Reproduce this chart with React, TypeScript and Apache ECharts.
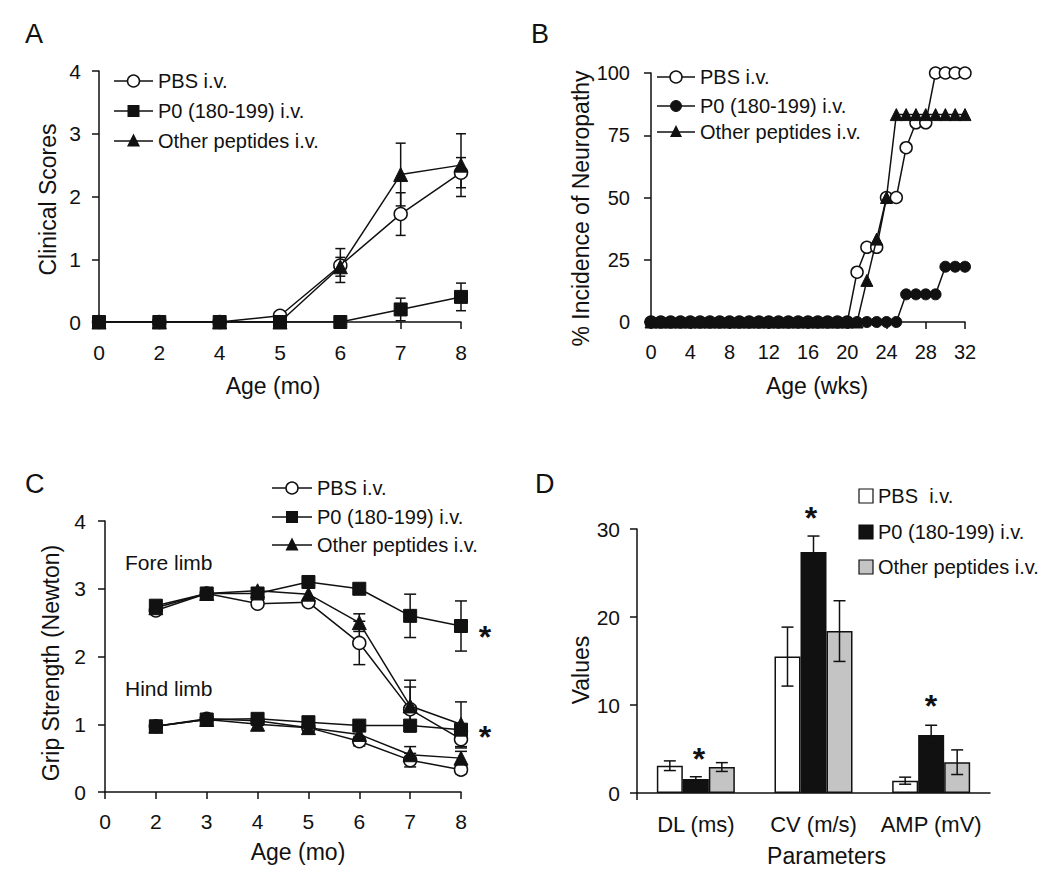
import React, { useEffect, useRef } from 'react';
import * as echarts from 'echarts';

// ---------- Panel A: clinical scores ----------
const ageMonthsA = ['0', '2', '4', '5', '6', '7', '8'];
const clinicalPBS = [0, 0, 0, 0.1, 0.9, 1.72, 2.38];
const clinicalPBSErr = [0, 0, 0, 0, 0.27, 0.34, 0.24];
const clinicalP0 = [0, 0, 0, 0, 0, 0.2, 0.4];
const clinicalP0Err = [0, 0, 0, 0, 0, 0.18, 0.22];
const clinicalOther = [0, 0, 0, 0, 0.88, 2.35, 2.5];
const clinicalOtherErr = [0, 0, 0, 0, 0.15, 0.5, 0.5];
const clinicalTicks = [0, 1, 2, 3, 4];

// ---------- Panel B: % incidence of neuropathy ----------
const weeks = [0, 1, 2, 3, 4, 5, 6, 7, 8, 9, 10, 11, 12, 13, 14, 15, 16, 17, 18, 19, 20, 21, 22, 23, 24, 25, 26, 27, 28, 29, 30, 31, 32];
const incidencePBS = [0, 0, 0, 0, 0, 0, 0, 0, 0, 0, 0, 0, 0, 0, 0, 0, 0, 0, 0, 0, 0, 20, 30, 30, 50, 50, 70, 80, 80, 100, 100, 100, 100];
const incidenceP0 = [0, 0, 0, 0, 0, 0, 0, 0, 0, 0, 0, 0, 0, 0, 0, 0, 0, 0, 0, 0, 0, 0, 0, 0, 0, 0, 11.1, 11.1, 11.1, 11.1, 22.2, 22.2, 22.2];
const incidenceOther = [0, 0, 0, 0, 0, 0, 0, 0, 0, 0, 0, 0, 0, 0, 0, 0, 0, 0, 0, 0, 0, 0, 16.7, 33.3, 50, 83.3, 83.3, 83.3, 83.3, 83.3, 83.3, 83.3, 83.3];

// ---------- Panel C: grip strength ----------
const ageMonthsC = ['0', '2', '3', '4', '5', '6', '7', '8'];
const forePBS = [null, 2.68, 2.93, 2.78, 2.8, 2.2, 1.22, 0.78];
const forePBSErr = [0, 0, 0, 0, 0, 0.32, 0.33, 0.13];
const foreP0 = [null, 2.75, 2.93, 2.93, 3.1, 3.0, 2.6, 2.45];
const foreP0Err = [0, 0, 0, 0, 0, 0, 0.32, 0.37];
const foreOther = [null, 2.72, 2.93, 2.97, 2.92, 2.5, 1.27, 1.0];
const foreOtherErr = [0, 0, 0, 0, 0, 0.13, 0.38, 0.33];
const hindPBS = [null, 0.97, 1.08, 1.05, 0.95, 0.75, 0.47, 0.33];
const hindPBSErr = [0, 0, 0, 0, 0, 0.07, 0.1, 0.06];
const hindP0 = [null, 0.97, 1.07, 1.08, 1.03, 0.98, 0.98, 0.92];
const hindP0Err = [0, 0, 0, 0, 0, 0, 0, 0];
const hindOther = [null, 0.97, 1.07, 1.0, 0.95, 0.85, 0.55, 0.5];
const hindOtherErr = [0, 0, 0, 0, 0, 0, 0.12, 0.1];

// ---------- Panel D: nerve conduction parameters ----------
const parameters = ['DL (ms)', 'CV (m/s)', 'AMP (mV)'];
const ncvPBS = [3.1, 15.5, 1.4];
const ncvPBSErr = [0.55, 3.35, 0.4];
const ncvP0 = [1.6, 27.4, 6.6];
const ncvP0Err = [0.25, 1.8, 1.1];
const ncvOther = [2.95, 18.4, 3.5];
const ncvOtherErr = [0.5, 3.45, 1.4];

const legendLabels = ['PBS i.v.', 'P0 (180-199) i.v.', 'Other peptides i.v.'];
const legendLabelsD = ['PBS  i.v.', 'P0 (180-199) i.v.', 'Other peptides i.v.'];

const FONT = '"Liberation Sans", Arial, Helvetica, sans-serif';
const INK = '#111';
const GREY = '#c4c4c4';

function errRows(means: any[], errs: number[]) {
  const rows: number[][] = [];
  means.forEach((m, i) => {
    const e = errs[i];
    if (typeof m === 'number' && e > 0) rows.push([i, m - e, m + e]);
  });
  return rows;
}

function errorBarRenderer(capWidth: number, offset: number) {
  return (params: any, api: any) => {
    const idx = api.value(0);
    const lo = api.coord([idx, api.value(1)]);
    const hi = api.coord([idx, api.value(2)]);
    const x = lo[0] + offset;
    const style = { stroke: INK, lineWidth: 1.5, fill: null };
    return {
      type: 'group',
      children: [
        { type: 'line', shape: { x1: x, y1: lo[1], x2: x, y2: hi[1] }, style },
        { type: 'line', shape: { x1: x - capWidth / 2, y1: hi[1], x2: x + capWidth / 2, y2: hi[1] }, style },
        { type: 'line', shape: { x1: x - capWidth / 2, y1: lo[1], x2: x + capWidth / 2, y2: lo[1] }, style },
      ],
    };
  };
}

const openCircle = { color: '#fff', borderColor: INK, borderWidth: 1.5 };
const filled = { color: INK, borderColor: INK, borderWidth: 1 };

function lineSeries(name: string, data: any[], x: number, symbol: string, size: number, item: any, z: number) {
  return {
    type: 'line', name, xAxisIndex: x, yAxisIndex: x, data: data.map((v) => (v === null ? '-' : v)),
    symbol, symbolSize: size, showSymbol: true, itemStyle: item,
    lineStyle: { color: INK, width: 1.5 }, z, connectNulls: false,
    emphasis: { disabled: true },
  };
}

function errSeries(means: any[], errs: number[], x: number, cap: number, offset: number, z: number) {
  return {
    type: 'custom', xAxisIndex: x, yAxisIndex: x, data: errRows(means, errs),
    renderItem: errorBarRenderer(cap, offset), z, silent: true,
  };
}

function legendRow(x0: number, x1: number, y: number, marker: string, label: string, size: number) {
  const cx = (x0 + x1) / 2;
  const els: any[] = [
    { type: 'line', shape: { x1: x0, y1: y, x2: x1, y2: y }, style: { stroke: INK, lineWidth: 1.5 } },
  ];
  const r = size / 2;
  if (marker === 'open') els.push({ type: 'circle', shape: { cx, cy: y, r }, style: { fill: '#fff', stroke: INK, lineWidth: 1.5 } });
  if (marker === 'dot') els.push({ type: 'circle', shape: { cx, cy: y, r }, style: { fill: INK, stroke: INK } });
  if (marker === 'square') els.push({ type: 'rect', shape: { x: cx - r, y: y - r, width: size, height: size }, style: { fill: INK } });
  if (marker === 'tri') els.push({ type: 'polygon', shape: { points: [[cx, y - r - 1], [cx - r, y + r - 1], [cx + r, y + r - 1]] }, style: { fill: INK } });
  els.push({
    type: 'text', x: x1 + 5, y,
    style: { text: label, font: `20px ${FONT}`, fill: INK, align: 'left', verticalAlign: 'middle', textAlign: 'left', textVerticalAlign: 'middle' },
  });
  return els;
}

function txt(x: number, y: number, text: string, size: number, weight = 'normal', align = 'left') {
  return {
    type: 'text', x, y,
    style: { text, font: `${weight} ${size}px ${FONT}`, fill: INK, align, verticalAlign: 'middle', textAlign: align, textVerticalAlign: 'middle' },
  };
}

function boxLegend(x: number, y: number, fill: string, label: string) {
  return [
    { type: 'rect', shape: { x, y: y - 7, width: 14, height: 14 }, style: { fill, stroke: INK, lineWidth: 1.2 } },
    txt(x + 19, y, label, 20),
  ];
}

const axisLine = { show: true, lineStyle: { color: INK, width: 1.5 } };
const axisTick = { show: true, length: 7, lineStyle: { color: INK, width: 1.5 } };
const label = (margin: number, size = 20) => ({ color: INK, fontSize: size, fontFamily: FONT, margin, interval: 0 });
const nameStyle = (padding: number[]) => ({ color: INK, fontSize: 23, fontFamily: FONT, padding });

export default function App() {
  const ref = useRef<HTMLDivElement>(null);
  useEffect(() => {
    if (!ref.current) return;
    const chart = echarts.init(ref.current, undefined, { renderer: 'svg' });
    const option: any = {
      animation: false,
      textStyle: { fontFamily: FONT },
      grid: [
        { left: 99, top: 71, width: 362, height: 251 },
        { left: 651, top: 73, width: 314, height: 249 },
        { left: 105, top: 521, width: 356, height: 271 },
        { left: 637, top: 529, width: 353, height: 264 },
      ],
      xAxis: [
        {
          gridIndex: 0, type: 'category', data: ageMonthsA, boundaryGap: false,
          axisLine, axisTick, axisLabel: label(20, 21),
          name: 'Age (mo)', nameLocation: 'middle', nameGap: 52, nameTextStyle: nameStyle([0, 14, 0, 0]),
        },
        {
          gridIndex: 1, type: 'value', min: 0, max: 32, interval: 4,
          axisLine, axisTick, axisLabel: { ...label(20), interval: 'auto' }, splitLine: { show: false },
          name: 'Age (wks)', nameLocation: 'middle', nameGap: 52, nameTextStyle: nameStyle([0, 0, 0, 18]),
        },
        {
          gridIndex: 2, type: 'category', data: ageMonthsC, boundaryGap: false,
          axisLine, axisTick, axisLabel: label(19, 21),
          name: 'Age (mo)', nameLocation: 'middle', nameGap: 48, nameTextStyle: nameStyle([0, 0, 0, 30]),
        },
        {
          gridIndex: 3, type: 'category', data: parameters, boundaryGap: true,
          axisLine, axisTick: { show: false }, axisLabel: label(20, 22),
          name: 'Parameters', nameLocation: 'middle', nameGap: 51, nameTextStyle: nameStyle([0, 0, 0, 26]),
        },
      ],
      yAxis: [
        {
          gridIndex: 0, type: 'value', min: clinicalTicks[0], max: clinicalTicks[clinicalTicks.length - 1], interval: 1,
          axisLine, axisTick, axisLabel: { ...label(18, 21), interval: 'auto' }, splitLine: { show: false },
          name: 'Clinical Scores', nameLocation: 'middle', nameGap: 40, nameTextStyle: nameStyle([0, 6, 0, 0]),
        },
        {
          gridIndex: 1, type: 'value', min: 0, max: 100, interval: 25, offset: 3,
          axisLine, axisTick, axisLabel: { ...label(18), interval: 'auto' }, splitLine: { show: false },
          name: '% Incidence of Neuropathy', nameLocation: 'middle', nameGap: 50, nameTextStyle: nameStyle([0, 22, 0, 0]),
        },
        {
          gridIndex: 2, type: 'value', min: 0, max: 4, interval: 1,
          axisLine, axisTick, axisLabel: { ...label(19, 21), interval: 'auto' }, splitLine: { show: false },
          name: 'Grip Strength (Newton)', nameLocation: 'middle', nameGap: 43, nameTextStyle: nameStyle([0, 13, 0, 0]),
        },
        {
          gridIndex: 3, type: 'value', min: 0, max: 30, interval: 10,
          axisLine, axisTick, axisLabel: { ...label(17, 21), interval: 'auto' }, splitLine: { show: false },
          name: 'Values', nameLocation: 'middle', nameGap: 42, nameTextStyle: nameStyle([0, 18, 0, 0]),
        },
      ],
      series: [
        // A
        errSeries(clinicalPBS, clinicalPBSErr, 0, 10, 0, 1),
        errSeries(clinicalOther, clinicalOtherErr, 0, 10, 0, 1),
        errSeries(clinicalP0, clinicalP0Err, 0, 10, 0, 1),
        lineSeries('PBS i.v.', clinicalPBS, 0, 'circle', 13, openCircle, 2),
        lineSeries('Other peptides i.v.', clinicalOther, 0, 'triangle', 14, filled, 3),
        lineSeries('P0 (180-199) i.v.', clinicalP0, 0, 'rect', 13, filled, 4),
        // B
        lineSeries('PBS i.v.', weeks.map((w, i) => [w, incidencePBS[i]]), 1, 'circle', 12, openCircle, 2),
        lineSeries('Other peptides i.v.', weeks.map((w, i) => [w, incidenceOther[i]]), 1, 'triangle', 12, filled, 3),
        lineSeries('P0 (180-199) i.v.', weeks.map((w, i) => [w, incidenceP0[i]]), 1, 'circle', 11, filled, 4),
        // C
        errSeries(forePBS, forePBSErr, 2, 12, 0, 1),
        errSeries(foreP0, foreP0Err, 2, 12, 0, 1),
        errSeries(foreOther, foreOtherErr, 2, 12, 0, 1),
        errSeries(hindPBS, hindPBSErr, 2, 12, 0, 1),
        errSeries(hindP0, hindP0Err, 2, 12, 0, 1),
        errSeries(hindOther, hindOtherErr, 2, 12, 0, 1),
        lineSeries('PBS i.v. fore', forePBS, 2, 'circle', 13, openCircle, 2),
        lineSeries('Other peptides i.v. fore', foreOther, 2, 'triangle', 14, filled, 3),
        lineSeries('P0 (180-199) i.v. fore', foreP0, 2, 'rect', 13, filled, 4),
        lineSeries('PBS i.v. hind', hindPBS, 2, 'circle', 13, openCircle, 2),
        lineSeries('Other peptides i.v. hind', hindOther, 2, 'triangle', 14, filled, 3),
        lineSeries('P0 (180-199) i.v. hind', hindP0, 2, 'rect', 13, filled, 4),
        // D
        {
          type: 'bar', name: 'PBS i.v. D', xAxisIndex: 3, yAxisIndex: 3, data: ncvPBS,
          barWidth: 26, barGap: '0%', itemStyle: { color: '#fff', borderColor: INK, borderWidth: 1.5 }, z: 2,
        },
        {
          type: 'bar', name: 'P0 D', xAxisIndex: 3, yAxisIndex: 3, data: ncvP0,
          barWidth: 26, barGap: '0%', itemStyle: { color: INK, borderColor: INK, borderWidth: 1.5 }, z: 2,
        },
        {
          type: 'bar', name: 'Other D', xAxisIndex: 3, yAxisIndex: 3, data: ncvOther,
          barWidth: 26, barGap: '0%', itemStyle: { color: GREY, borderColor: INK, borderWidth: 1.5 }, z: 2,
        },
        errSeries(ncvPBS, ncvPBSErr, 3, 12, -26, 5),
        errSeries(ncvP0, ncvP0Err, 3, 12, 0, 5),
        errSeries(ncvOther, ncvOtherErr, 3, 12, 26, 5),
      ],
      graphic: [
        txt(25, 34, 'A', 27),
        txt(531, 34, 'B', 27),
        txt(25, 484, 'C', 27),
        txt(535, 484, 'D', 27),
        ...legendRow(114, 153, 81, 'open', legendLabels[0], 12),
        ...legendRow(114, 153, 111, 'square', legendLabels[1], 12),
        ...legendRow(114, 153, 141, 'tri', legendLabels[2], 13),
        ...legendRow(657, 695, 77, 'open', legendLabels[0], 12),
        ...legendRow(657, 695, 106, 'dot', legendLabels[1], 11),
        ...legendRow(657, 695, 132, 'tri', legendLabels[2], 12),
        ...legendRow(272, 312, 488, 'open', legendLabels[0], 12),
        ...legendRow(272, 312, 517, 'square', legendLabels[1], 12),
        ...legendRow(272, 312, 545, 'tri', legendLabels[2], 13),
        ...boxLegend(859, 496, '#fff', legendLabelsD[0]),
        ...boxLegend(859, 532, INK, legendLabelsD[1]),
        ...boxLegend(859, 567, GREY, legendLabelsD[2]),
        txt(125, 562, 'Fore limb', 21),
        txt(125, 688, 'Hind limb', 21),
        txt(485, 637, '*', 32, 'bold', 'center'),
        txt(485, 737, '*', 32, 'bold', 'center'),
        txt(699, 759, '*', 32, 'bold', 'center'),
        txt(811, 518, '*', 32, 'bold', 'center'),
        txt(931, 706, '*', 32, 'bold', 'center'),
        { type: 'line', shape: { x1: 637, y1: 793, x2: 637, y2: 800 }, style: { stroke: INK, lineWidth: 1.5 } },
      ],
    };
    chart.setOption(option);
    return () => chart.dispose();
  }, []);
  return <div ref={ref} style={{ position: 'fixed', left: 0, top: 0, width: 1050, height: 891, background: '#fff' }} />;
}
